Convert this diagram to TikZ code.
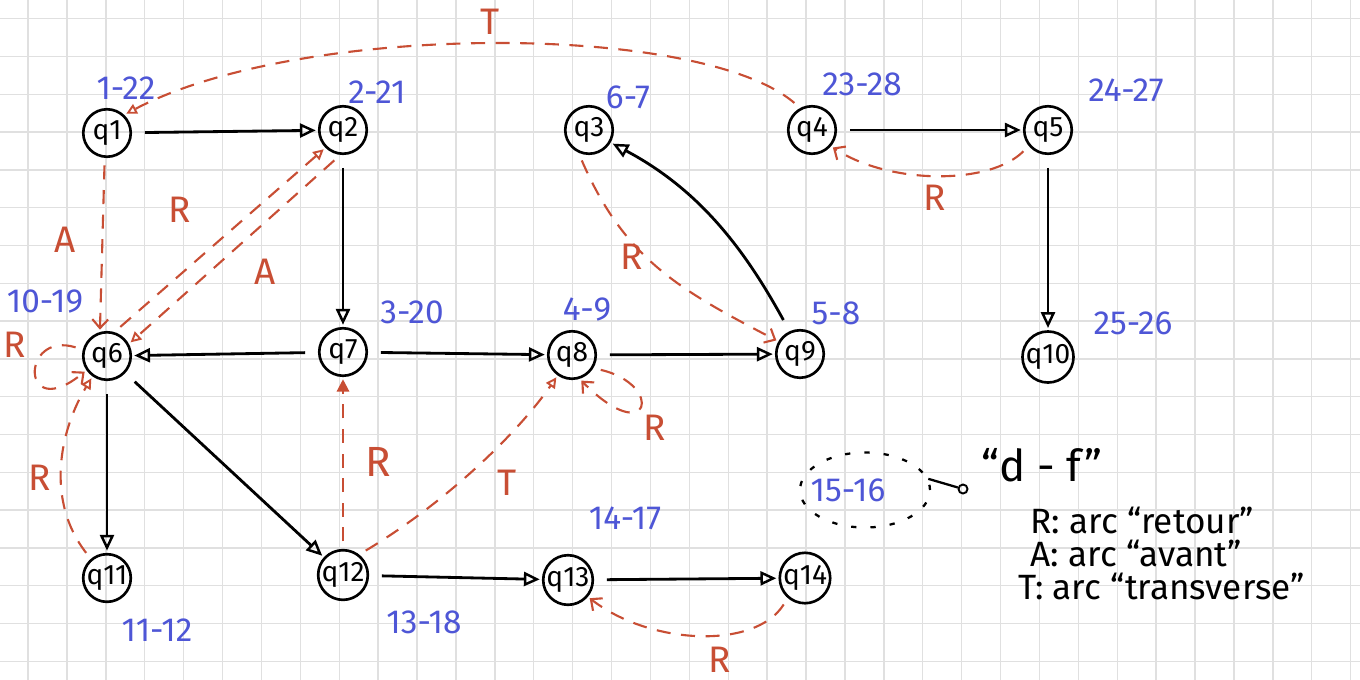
\documentclass[tikz,border=0pt]{standalone}
\usepackage{fontspec}
\setmainfont{Fira Sans}
\usetikzlibrary{arrows.meta,shapes.geometric}
\definecolor{redc}{RGB}{200,78,52}
\definecolor{bluec}{RGB}{78,86,214}
\definecolor{gridc}{RGB}{224,224,224}
\tikzset{
  st/.style={circle, draw=black, line width=1.5pt, minimum size=0.95cm, inner sep=0pt, outer sep=2pt, font=\fontsize{16}{18}\selectfont},
  num/.style={text=bluec, font=\fontsize{19}{21}\selectfont},
  lab/.style={text=redc, font=\fontsize{21}{23}\selectfont},
  blk/.style={draw=black, line width=1.6pt, shorten <=6pt, -{Triangle[open, length=9pt, width=8pt, line width=1.4pt]}},
  rd/.style={draw=redc, line width=1.2pt, dash pattern=on 8pt off 6pt, shorten <=3pt},
  otri/.style={-{Triangle[open, length=6pt, width=6pt, line width=1.1pt]}},
  barb/.style={-{Straight Barb[length=5pt, width=9pt, line width=1.2pt]}},
  ftri/.style={-{Triangle[length=7pt, width=7pt]}},
  leg/.style={anchor=west, inner sep=0pt, font=\fontsize{20}{22}\selectfont}
}
\begin{document}
\begin{tikzpicture}[x=0.02cm, y=-0.02cm]
\fill[white] (0,0) rectangle (1360,680);
\useasboundingbox (0,0) rectangle (1360,680);
\foreach \i in {0,...,34} \draw[gridc, line width=0.8pt] ({28+38.9*\i},0) -- ({28+38.9*\i},680);
\foreach \j in {0,...,17} \draw[gridc, line width=0.8pt] (0,{18.6+37.8*\j}) -- (1360,{18.6+37.8*\j});

% states
\node[st] (q1) at (107,133) {q1};
\node[st] (q2) at (343,130) {q2};
\node[st] (q3) at (589,130) {q3};
\node[st] (q4) at (812,130) {q4};
\node[st] (q5) at (1048,130) {q5};
\node[st] (q6) at (107,356) {q6};
\node[st] (q7) at (343,352) {q7};
\node[st] (q8) at (572,355) {q8};
\node[st] (q9) at (800,354) {q9};
\node[st] (q10) at (1048,357) {q10};
\node[st] (q11) at (107,578) {q11};
\node[st] (q12) at (343,575) {q12};
\node[st] (q13) at (568,580) {q13};
\node[st] (q14) at (805,578) {q14};

% discovery-finish numbers
\node[num] (n1) at (126,88) {1-22};
\node[num] (n2) at (377,92) {2-21};
\node[num] (n3) at (628,97) {6-7};
\node[num] (n4) at (862,84) {23-28};
\node[num] (n5) at (1126,90) {24-27};
\node[num] (n6) at (45,302) {10-19};
\node[num] (n7) at (412,312) {3-20};
\node[num] (n8) at (587,310) {4-9};
\node[num] (n9) at (836,313) {5-8};
\node[num] (n10) at (1133,323) {25-26};
\node[num] (n11) at (157,630) {11-12};
\node[num] (n12) at (424,622) {13-18};
\node[num] (n13) at (625,518) {14-17};
\node[num] (n14) at (848,490) {15-16};

% tree edges
\draw[blk] (q1) -- (q2);
\draw[blk] (q2) -- (q7);
\draw[blk] (q7) -- (q6);
\draw[blk] (q7) -- (q8);
\draw[blk] (q8) -- (q9);
\draw[blk] (q9.115) .. controls (745,250) and (700,190) .. (q3.330);
\draw[blk] (q4) -- (q5);
\draw[blk] (q5) -- (q10);
\draw[blk] (q6) -- (q11);
\draw[blk] (q6) -- (q12);
\draw[blk] (q12) -- (q13);
\draw[blk] (q13) -- (q14);

% non-tree edges
\draw[rd, otri] (q4.120) .. controls (700,22) and (300,22) .. (q1.45);
\draw[rd, barb] (q1.265) -- (q6.105);
\draw[rd, otri] (q6.70) -- (q2.225);
\draw[rd, otri] (q2.260) -- (q6.30);
\draw[rd, barb] (q6.165) .. controls (20,330) and (20,425) .. (q6.215);
\draw[rd, otri] (q11.130) .. controls (45,500) and (60,430) .. (q6.235);
\draw[rd, ftri] (q12.north) -- (q7.south);
\draw[rd, otri] (q12.50) .. controls (450,500) and (520,430) .. (q8.235);
\draw[rd, barb] (q8.330) .. controls (665,385) and (650,450) .. (q8.290);
\draw[rd, barb] (q3.250) .. controls (625,260) and (680,290) .. (q9.150);
\draw[rd, barb] (q5.220) .. controls (990,185) and (890,185) .. (q4.320);
\draw[rd, barb] (q14.230) .. controls (755,650) and (650,645) .. (q13.320);

% labels of non-tree edges
\node[lab] (lT1) at (490,22) {T};
\node[lab] (lA1) at (65,240) {A};
\node[lab] (lR1) at (180,210) {R};
\node[lab] (lA2) at (265,272) {A};
\node[lab] (lR2) at (15,345) {R};
\node[lab] (lR3) at (40,478) {R};
\node[lab, font=\fontsize{24}{26}\selectfont] (lR4) at (378,462) {R};
\node[lab] (lT2) at (507,483) {T};
\node[lab] (lR5) at (655,428) {R};
\node[lab] (lR6) at (632,257) {R};
\node[lab] (lR7) at (935,198) {R};
\node[lab] (lR8) at (720,660) {R};

% start-finish annotation
\node[draw=black, ellipse, dash pattern=on 3pt off 8pt, line width=1.3pt, minimum width=2.6cm, minimum height=1.5cm] (ell) at (865,490) {};
\node[circle, draw=black, line width=1.1pt, minimum size=0.18cm, inner sep=0pt] (dot) at (963,489) {};
\draw[black, line width=1.3pt] (ell.10) -- (dot);
\node[font=\fontsize{25}{27}\selectfont] (df) at (1042,465) {“d - f”};
\node[leg] (l1) at (1030,520) {R: arc “retour”};
\node[leg] (l2) at (1030,553) {A: arc “avant”};
\node[leg] (l3) at (1018,586) {T: arc “transverse”};
\end{tikzpicture}
\end{document}
